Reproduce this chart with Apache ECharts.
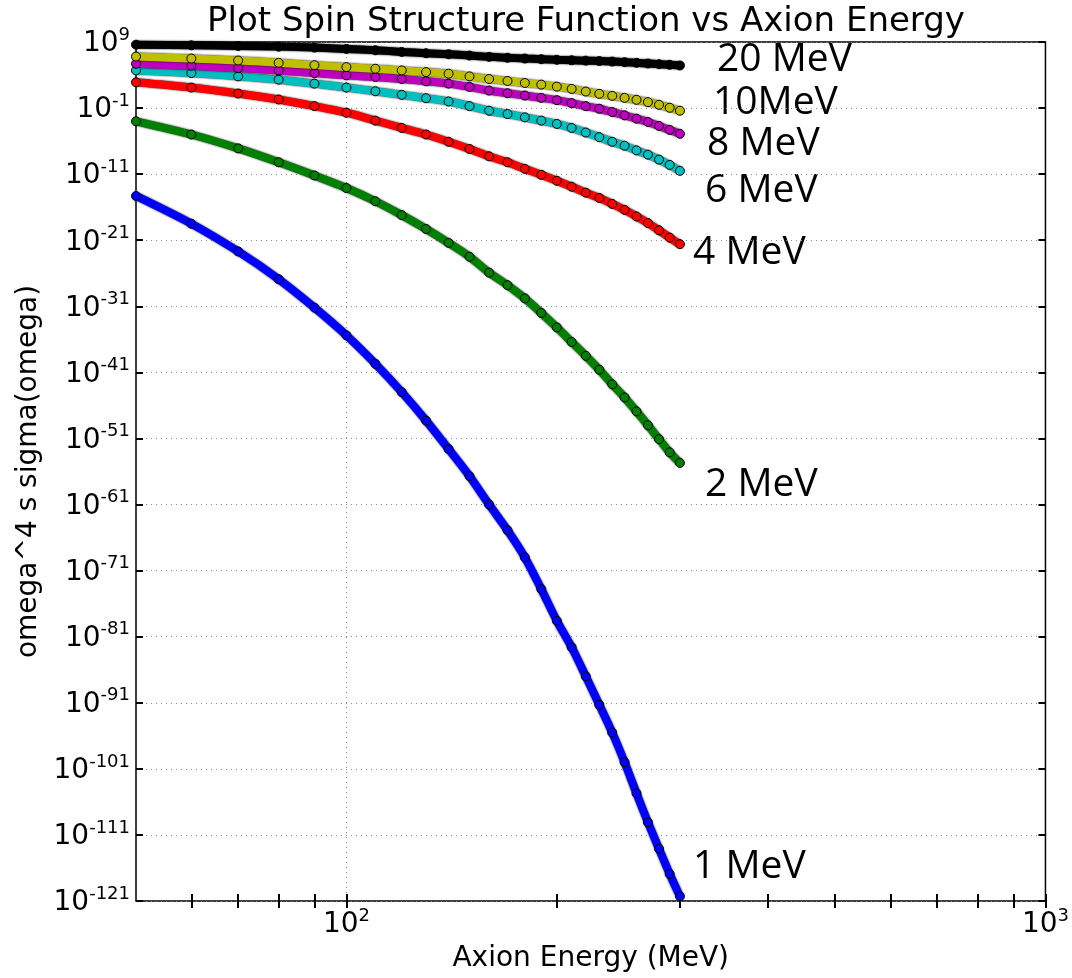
<!DOCTYPE html>
<html>
<head>
<meta charset="utf-8">
<title>Plot Spin Structure Function vs Axion Energy</title>
<script src="https://cdn.jsdelivr.net/npm/echarts@6/dist/echarts.min.js"></script>
<style>
  html, body { margin: 0; padding: 0; background: #fff; }
  #chart { width: 1072px; height: 978px; }
</style>
</head>
<body>
<div id="chart"></div>
<script>
// axion energy (MeV)
var energy = [50, 60, 70, 80, 90, 100, 110, 120, 130, 140, 150, 160, 170, 180, 190, 200,
  210, 220, 230, 240, 250, 260, 270, 280, 290, 300];

// log10 of omega^4 s sigma(omega), one list per curve
var mev1 = [-14.3, -18.5, -22.7, -26.9, -31.2, -35.4, -39.7, -44.0, -48.3, -52.6, -56.7, -61.0, -64.9,
  -69.0, -73.8, -78.6, -82.6, -87.0, -91.3, -95.5, -100.0, -104.7, -109.1, -113.1, -116.9, -120.3];
var mev2 = [-3.0, -5.0, -7.1, -9.2, -11.2, -13.1, -15.1, -17.2, -19.3, -21.4, -23.5, -25.9, -27.8,
  -29.8, -32.0, -34.2, -36.4, -38.5, -40.6, -42.8, -44.8, -46.9, -49.0, -51.1, -53.1, -54.7];
var mev4 = [2.9, 2.1, 1.2, 0.3, -0.7, -1.7, -2.9, -4.0, -5.0, -6.1, -7.2, -8.3, -9.2,
  -10.2, -11.1, -12.0, -12.9, -13.8, -14.6, -15.5, -16.4, -17.4, -18.4, -19.5, -20.6, -21.6];
var mev6 = [4.7, 4.3, 3.8, 3.3, 2.7, 2.1, 1.55, 1.0, 0.5, 0.0, -0.7, -1.4, -1.9,
  -2.4, -2.9, -3.4, -4.0, -4.7, -5.4, -6.1, -6.7, -7.4, -8.05, -8.8, -9.6, -10.5];
var mev8 = [5.7, 5.4, 5.05, 4.7, 4.3, 3.95, 3.7, 3.4, 3.05, 2.7, 2.2, 1.65, 1.25,
  0.9, 0.55, 0.2, -0.25, -0.7, -1.1, -1.6, -2.1, -2.6, -3.1, -3.7, -4.3, -4.9];
var mev10 = [6.8, 6.5, 6.2, 5.85, 5.5, 5.2, 4.95, 4.7, 4.45, 4.2, 3.8, 3.4, 3.1,
  2.8, 2.55, 2.25, 1.9, 1.5, 1.15, 0.85, 0.55, 0.25, -0.1, -0.5, -0.95, -1.4];
var mev20 = [8.6, 8.5, 8.4, 8.3, 8.15, 7.95, 7.75, 7.5, 7.3, 7.15, 6.95, 6.75, 6.62,
  6.5, 6.4, 6.3, 6.24, 6.18, 6.12, 6.04, 5.95, 5.85, 5.75, 5.65, 5.55, 5.45];

var curveNames = ['1 MeV', '2 MeV', '4 MeV', '6 MeV', '8 MeV', '10MeV', '20 MeV'];
var curveData = [mev1, mev2, mev4, mev6, mev8, mev10, mev20];
var curveColors = ['#0000ff', '#008000', '#ff0000', '#00bfbf', '#bf00bf', '#bfbf00', '#000000'];

// axis ticks
var xTickValues = [60, 70, 80, 90, 100, 200, 300, 400, 500, 600, 700, 800, 900, 1000];
var xLabelValues = [100, 1000];
var yTickExps = [-121, -111, -101, -91, -81, -71, -61, -51, -41, -31, -21, -11, -1, 9];

var font = '"DejaVu Sans", sans-serif';
var noteFont = '"Open Sans", sans-serif';

var chart = echarts.init(document.getElementById('chart'));

function toPoints(list) {
  return list.map(function (e, i) {
    return [energy[i], Math.pow(10, e)];
  });
}

function sci(value) {
  var e = Math.round(Math.log10(value));
  return '{b|10}{s|' + e + '}';
}

var tickRich = {
  b: { fontFamily: font, fontSize: 28, color: '#000', lineHeight: 32, verticalAlign: 'bottom' },
  s: { fontFamily: font, fontSize: 18, color: '#000', lineHeight: 18, verticalAlign: 'top' }
};

var yTicks = yTickExps.map(function (e) { return Math.pow(10, e); });

var tickLine = { color: '#000', width: 2 };
var gridDots = { color: '#888', width: 1, type: [1, 4] };

var xBase = { type: 'log', logBase: 10, min: 50, max: 1000 };
var yBase = { type: 'log', logBase: 10, min: Math.pow(10, -121), max: Math.pow(10, 9) };

// labels next to the curve ends
var notes = [
  { text: '20 MeV', x: 717, y: 60 },
  { text: '10MeV', x: 713, y: 103 },
  { text: '8 MeV', x: 707, y: 144 },
  { text: '6 MeV', x: 705, y: 191 },
  { text: '4 MeV', x: 693, y: 253 },
  { text: '2 MeV', x: 705, y: 485 },
  { text: '1 MeV', x: 693, y: 867 }
];

chart.setOption({
  animation: false,
  backgroundColor: '#fff',
  title: {
    text: 'Plot Spin Structure Function vs Axion Energy',
    left: 586,
    top: 5,
    padding: 0,
    textAlign: 'center',
    textStyle: { fontFamily: font, fontSize: 34, fontWeight: 'normal', color: '#000' }
  },
  grid: {
    left: 136,
    right: 23,
    top: 42,
    bottom: 74,
    show: true,
    borderColor: '#000',
    borderWidth: 1.5
  },
  xAxis: [
    Object.assign({}, xBase, {
      position: 'bottom',
      name: 'Axion Energy (MeV)',
      nameLocation: 'middle',
      nameGap: 44,
      nameTextStyle: { fontFamily: font, fontSize: 28, color: '#000' },
      axisLine: { show: false },
      axisTick: { show: true, inside: true, length: 7, customValues: xTickValues, lineStyle: tickLine },
      axisLabel: { customValues: xLabelValues, formatter: sci, rich: tickRich, margin: 6 },
      splitLine: { show: false }
    }),
    Object.assign({}, xBase, {
      position: 'top',
      axisLine: { show: false },
      axisTick: { show: true, inside: true, length: 7, customValues: xTickValues, lineStyle: tickLine },
      axisLabel: { show: false },
      splitLine: { show: false }
    }),
    Object.assign({}, xBase, {
      position: 'bottom',
      axisLine: { show: false },
      axisTick: { show: false, customValues: [100] },
      axisLabel: { show: false },
      splitLine: { show: true, lineStyle: gridDots }
    })
  ],
  yAxis: [
    Object.assign({}, yBase, {
      position: 'left',
      name: 'omega^4 s sigma(omega)',
      nameLocation: 'middle',
      nameGap: 92,
      nameTextStyle: { fontFamily: font, fontSize: 28, color: '#000' },
      axisLine: { show: false },
      axisTick: { show: true, inside: true, length: 7, customValues: yTicks, lineStyle: tickLine },
      axisLabel: { customValues: yTicks, formatter: sci, rich: tickRich, margin: 6 },
      splitLine: { show: true, lineStyle: gridDots }
    }),
    Object.assign({}, yBase, {
      position: 'right',
      axisLine: { show: false },
      axisTick: { show: true, inside: true, length: 7, customValues: yTicks, lineStyle: tickLine },
      axisLabel: { show: false },
      splitLine: { show: false }
    })
  ],
  graphic: notes.map(function (n) {
    return {
      type: 'text',
      x: n.x,
      y: n.y,
      style: {
        text: n.text,
        fill: '#000',
        fontFamily: noteFont,
        fontSize: 39,
        align: 'left',
        verticalAlign: 'middle'
      }
    };
  }),
  series: curveData.map(function (list, i) {
    return {
      name: curveNames[i],
      type: 'line',
      xAxisIndex: 0,
      yAxisIndex: 0,
      data: toPoints(list),
      smooth: 0.3,
      symbol: 'circle',
      symbolSize: 9,
      showSymbol: true,
      lineStyle: {
        color: curveColors[i],
        width: 8,
        shadowColor: 'rgba(0,0,0,0.95)',
        shadowBlur: 2
      },
      itemStyle: { color: curveColors[i], borderColor: '#000', borderWidth: 1 }
    };
  })
});
</script>
</body>
</html>
